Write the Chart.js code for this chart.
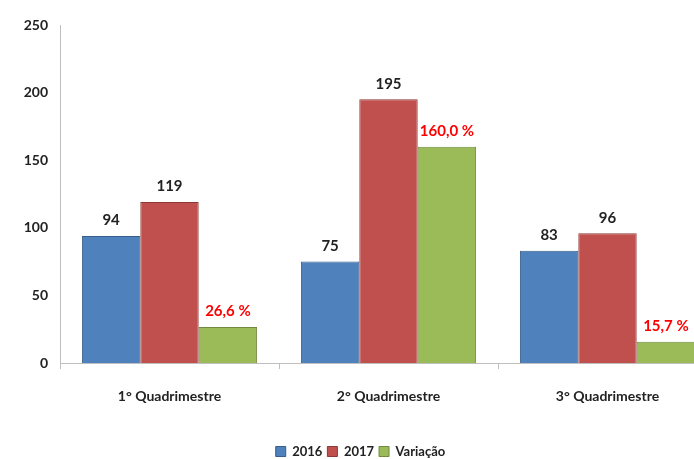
<!DOCTYPE html>
<html>
<head>
<meta charset="utf-8">
<script src="https://cdn.jsdelivr.net/npm/chart.js@4/dist/chart.umd.min.js"></script>
<style>
  html, body { margin: 0; padding: 0; background: #fff; overflow: hidden; }
  /* the reference is cut off on the right, so the canvas is a bit wider than the window */
  #wrap { width: 694px; height: 459px; overflow: hidden; }
</style>
</head>
<body>
<div id="wrap"><canvas id="chart" width="720" height="459"></canvas></div>
<script>
const categories = ['1° Quadrimestre', '2° Quadrimestre', '3° Quadrimestre'];
const values2016 = [94, 75, 83];
const values2017 = [119, 195, 96];
const variacao = [26.6, 160.0, 15.7];
const yTicks = [0, 50, 100, 150, 200, 250];

const FONT = 'Lato, "Open Sans", sans-serif';

// labels above bars (no datalabels plugin available)
const barLabels = {
    id: 'barLabels',
    afterDatasetsDraw(chart) {
        const ctx = chart.ctx;
        ctx.save();
        ctx.textAlign = 'center';
        ctx.textBaseline = 'bottom';
        ctx.font = 'bold 15px ' + FONT;
        chart.data.datasets.forEach((ds, i) => {
            const meta = chart.getDatasetMeta(i);
            meta.data.forEach((bar, j) => {
                const v = ds.data[j];
                let txt = String(v);
                ctx.fillStyle = '#222';
                if (ds.isPercent) {
                    txt = v.toFixed(1).replace('.', ',') + ' %';
                    ctx.fillStyle = '#FF0000';
                }
                ctx.fillText(txt, bar.x, bar.y - 8);
            });
        });
        ctx.restore();
    }
};

new Chart(document.getElementById('chart').getContext('2d'), {
    type: 'bar',
    data: {
        labels: categories,
        datasets: [
            { label: '2016', data: values2016, backgroundColor: '#4F81BD', borderColor: '#385D8A', borderWidth: 1 },
            { label: '2017', data: values2017, backgroundColor: '#C0504D', borderColor: '#8C3836', borderWidth: 1 },
            { label: 'Variação', data: variacao, backgroundColor: '#9BBB59', borderColor: '#71893F', borderWidth: 1, isPercent: true }
        ]
    },
    options: {
        responsive: false,
        animation: false,
        layout: { padding: { top: 25, right: 3, left: 4, bottom: -9 } },
        datasets: { bar: { barPercentage: 1.0, categoryPercentage: 0.8 } },
        scales: {
            y: {
                min: 0,
                max: 250,
                afterBuildTicks: (axis) => { axis.ticks = yTicks.map(v => ({ value: v })); },
                afterFit: (axis) => { axis.width = 56; },
                grid: { display: false, drawTicks: true, tickLength: 6, color: '#BFBFBF' },
                border: { display: true, color: '#BFBFBF' },
                ticks: { color: '#222', font: { family: FONT, size: 14, weight: 'bold' }, padding: 6 }
            },
            x: {
                afterFit: (axis) => { axis.height = 77; },
                grid: { display: true, drawOnChartArea: false, offset: true, tickLength: 6, color: '#BFBFBF' },
                border: { display: true, color: '#BFBFBF' },
                ticks: { color: '#222', font: { family: FONT, size: 14, weight: 'bold' }, padding: 19 }
            }
        },
        plugins: {
            legend: {
                position: 'bottom',
                labels: {
                    boxWidth: 10,
                    boxHeight: 10,
                    padding: 5,
                    color: '#222',
                    font: { family: FONT, size: 13, weight: 'bold' }
                }
            },
            tooltip: { enabled: false }
        }
    },
    plugins: [barLabels]
});
</script>
</body>
</html>
